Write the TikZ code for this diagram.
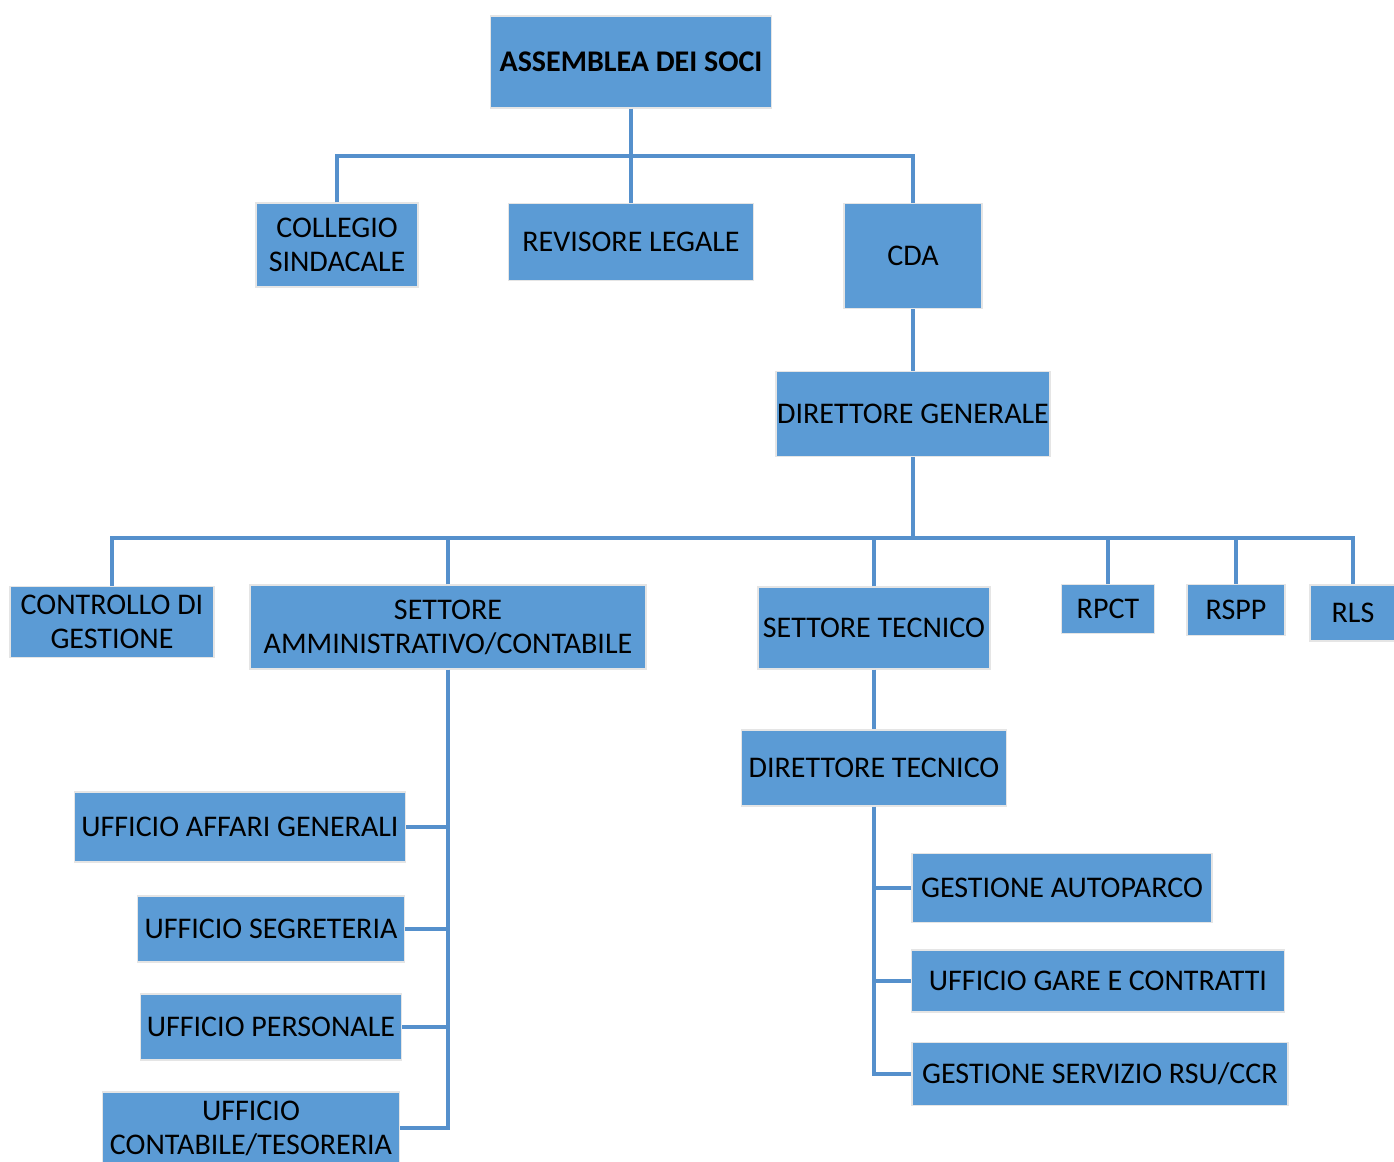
\documentclass[tikz,border=0pt]{standalone}
\usepackage{fontspec}
\setmainfont{Carlito}
\definecolor{boxblue}{HTML}{5B9BD5}
\definecolor{linkblue}{HTML}{5590CC}
\tikzset{
  unit/.style={fill=boxblue,draw=gray!20,line width=0.6pt,align=center,
    inner sep=0pt,font=\fontsize{15}{17}\selectfont,text=black},
  link/.style={draw=linkblue,line width=1.6pt}
}
\begin{document}
\begin{tikzpicture}[x=0.5pt,y=-0.5pt]
\useasboundingbox (0,0) rectangle (1394,1162);
% vertici
\node[unit,minimum width=140.5pt,minimum height=46pt,font=\fontsize{15}{17}\selectfont\bfseries] (asm) at (631,62) {ASSEMBLEA DEI SOCI};
\node[unit,minimum width=81pt,minimum height=42pt] (col) at (337,245) {COLLEGIO\\SINDACALE};
\node[unit,minimum width=122.5pt,minimum height=38.5pt] (rev) at (631,242) {REVISORE LEGALE};
\node[unit,minimum width=69pt,minimum height=52.5pt] (cda) at (913,256) {CDA};
\node[unit,minimum width=137pt,minimum height=42.5pt] (dg) at (913,414) {DIRETTORE GENERALE};
% settori
\node[unit,minimum width=102pt,minimum height=35.5pt] (ctl) at (112,622) {CONTROLLO DI\\GESTIONE};
\node[unit,minimum width=198pt,minimum height=42pt] (amm) at (448,627) {SETTORE\\AMMINISTRATIVO/CONTABILE};
\node[unit,minimum width=116pt,minimum height=41pt] (tec) at (874,628) {SETTORE TECNICO};
\node[unit,minimum width=46.5pt,minimum height=24.5pt] (rpct) at (1108,609) {RPCT};
\node[unit,minimum width=49pt,minimum height=25.5pt] (rspp) at (1236,610) {RSPP};
\node[unit,minimum width=43pt,minimum height=28pt] (rls) at (1353,613) {RLS};
% uffici
\node[unit,minimum width=132.5pt,minimum height=38pt] (dtec) at (874,768) {DIRETTORE TECNICO};
\node[unit,minimum width=165.5pt,minimum height=35pt] (uag) at (240,827) {UFFICIO AFFARI GENERALI};
\node[unit,minimum width=133.5pt,minimum height=33pt] (useg) at (271,929) {UFFICIO SEGRETERIA};
\node[unit,minimum width=130.5pt,minimum height=33pt] (upers) at (271,1027) {UFFICIO PERSONALE};
\node[unit,minimum width=148.5pt,minimum height=36pt] (ucont) at (251,1128) {UFFICIO\\CONTABILE/TESORERIA};
\node[unit,minimum width=150pt,minimum height=34.5pt] (gaut) at (1062,888) {GESTIONE AUTOPARCO};
\node[unit,minimum width=186.5pt,minimum height=31pt] (ugare) at (1098,981) {UFFICIO GARE E CONTRATTI};
\node[unit,minimum width=188pt,minimum height=31.5pt] (grsu) at (1100,1074) {GESTIONE SERVIZIO RSU/CCR};
% collegamenti
\coordinate (j1) at (631,156);
\coordinate (j2) at (913,538);
\draw[link] (asm.south) -- (rev.north);
\draw[link] (col.north) |- (j1) -| (cda.north);
\draw[link] (cda.south) -- (dg.north);
\draw[link] (dg.south) -- (j2);
\draw[link] (ctl.north) |- (j2) -| (rls.north);
\foreach \n in {amm,tec,rpct,rspp}
  \draw[link] (\n.north) -- (\n.north |- j2);
\draw[link] (amm.south) |- (ucont.east);
\foreach \n in {uag,useg,upers}
  \draw[link] (\n.east) -- (\n.east -| amm.south);
\draw[link] (tec.south) -- (dtec.north);
\draw[link] (dtec.south) |- (grsu.west);
\foreach \n in {gaut,ugare}
  \draw[link] (\n.west) -- (\n.west -| dtec.south);
\end{tikzpicture}
\end{document}
